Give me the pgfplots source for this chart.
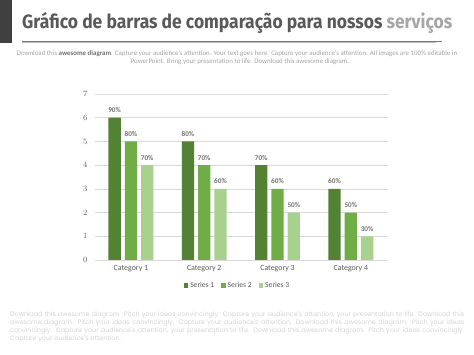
\documentclass[border=0pt]{standalone}
\usepackage{pgfplots}
\pgfplotsset{compat=1.18}
\usepackage{fontspec}
\setmainfont{Carlito}
\newfontfamily\titlefont{Fira Sans}
\newfontfamily\parafont{Poppins}
\definecolor{sA}{HTML}{548235}
\definecolor{sB}{HTML}{70AD47}
\definecolor{sC}{HTML}{A9D18E}
\definecolor{txt}{HTML}{595959}
\definecolor{grid}{HTML}{D9D9D9}
\begin{document}
\begin{tikzpicture}
\path[use as bounding box] (0,0) rectangle (474pt,355pt);
\fill[fill=white] (0,0) rectangle (474pt,355pt);
% left block
\fill[color={rgb,255:red,64;green,64;blue,64}] (0,312pt) rectangle (11.7pt,355pt);
% underline
\draw[line width=1.6pt, color={rgb,255:red,120;green,120;blue,120}] (22pt,313.6pt) -- (442pt,313.6pt);
\draw[line width=1pt, color={rgb,255:red,190;green,190;blue,190}] (22pt,312.3pt) -- (436pt,312.3pt);
% title
\node[anchor=base west, inner sep=0pt] at (22pt,326.7pt) {\resizebox{430pt}{\height}{\titlefont\bfseries\fontsize{19.3}{20}\selectfont\color{txt}Gráfico de barras de comparação para nossos \textcolor[HTML]{A6A6A6}{serviços}}};
% subtitle
\node[inner sep=0pt, color={rgb,255:red,165;green,165;blue,165}, font=\fontsize{6.9}{8}\selectfont] at (237pt,301pt) {Download this \textcolor[HTML]{707070}{\bfseries awesome diagram}. Capture your audience's attention. Your text goes here. Capture your audience's attention. All images are 100\% editable in};
\node[inner sep=0pt, color={rgb,255:red,165;green,165;blue,165}, font=\fontsize{6.9}{8}\selectfont] at (240pt,293pt) {PowerPoint. Bring your presentation to life. Download this awesome diagram.};
% bottom paragraph
\node[anchor=north west, inner sep=0pt, text width=454pt, align=justify, color={rgb,255:red,212;green,212;blue,212}, font=\parafont\fontsize{6.4}{7.9}\selectfont] at (10pt,43.6pt) {Download this awesome diagram. Pitch your ideas convincingly. Capture your audience's attention, your presentation to life. Download this\linebreak awesome diagram. Pitch your ideas convincingly. Capture your audience's attention. Download this awesome diagram. Pitch your ideas\linebreak convincingly. Capture your audience's attention, your presentation to life. Download this awesome diagram. Pitch your ideas convincingly.\linebreak Capture your audience's attention.};
\begin{axis}[
  at={(95pt,95pt)}, anchor=south west,
  scale only axis, width=293.2pt, height=166pt,
  xmin=-0.49, xmax=3.51, ymin=0, ymax=7,
  ybar=4pt, bar width=12.3pt,
  xtick={0,1,2,3}, xticklabels={Category 1,Category 2,Category 3,Category 4},
  ytick={0,...,7},
  major tick length=0pt,
  xtick style={draw=none}, ytick style={draw=none},
  xmajorgrids=false,
  axis lines*=left,
  x axis line style={draw=grid, line width=0.7pt, -},
  y axis line style={draw=none, -},
  ymajorgrids, grid style={draw=grid, line width=0.7pt},
  tick label style={font=\fontsize{7.9}{9}\selectfont, text=txt},
  yticklabel style={xshift=-4pt},
  xticklabel style={yshift=-1.5pt},
  point meta=explicit symbolic,
  nodes near coords,
  every node near coord/.append style={font=\bfseries\fontsize{7.2}{8}\selectfont, text={rgb,255:red,115;green,115;blue,115}, yshift=1.5pt},
  legend style={at={(0.486,-0.155)}, anchor=center, draw=none, fill=none, legend columns=-1, font=\fontsize{7.6}{9}\selectfont, text=txt,
    /tikz/every even column/.append style={column sep=5pt}},
  legend image code/.code={\fill[#1] (0pt,-2pt) rectangle (4.5pt,2.5pt);},
]
\addplot[fill=sA, draw=none] coordinates {(0,6) [90\%] (1,5) [80\%] (2,4) [70\%] (3,3) [60\%]};
\addplot[fill=sB, draw=none] coordinates {(0,5) [80\%] (1,4) [70\%] (2,3) [60\%] (3,2) [50\%]};
\addplot[fill=sC, draw=none] coordinates {(0,4) [70\%] (1,3) [60\%] (2,2) [50\%] (3,1) [30\%]};
\legend{Series 1, Series 2, Series 3}
\end{axis}
\end{tikzpicture}
\end{document}
